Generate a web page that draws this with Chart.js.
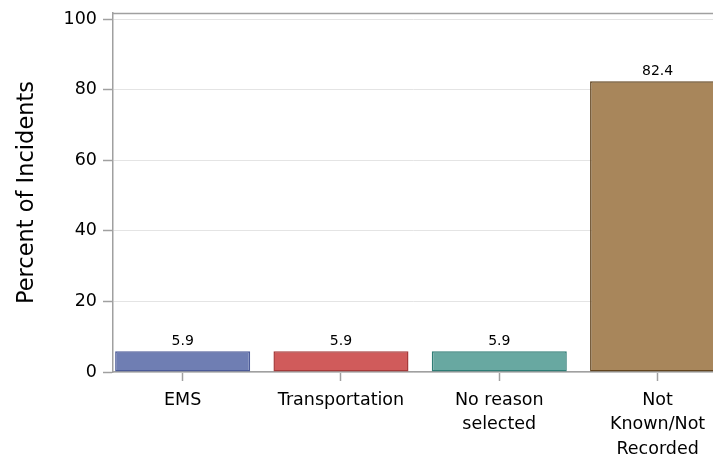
<!DOCTYPE html>
<html>
<head>
<meta charset="utf-8">
<script src="https://cdn.jsdelivr.net/npm/chart.js@4.4.1/dist/chart.umd.min.js"></script>
<style>
html,body{margin:0;padding:0;background:#fff;overflow:hidden;}
canvas{display:block;}
</style>
</head>
<body>
<canvas id="c" width="713" height="459"></canvas>
<script>
const categories = [["EMS"], ["Transportation"], ["No reason", "selected"], ["Not", "Known/Not", "Recorded"]];
const values = [5.9, 5.9, 5.9, 82.4];
const valueLabels = ["5.9", "5.9", "5.9", "82.4"];
const yTicks = [0, 20, 40, 60, 80, 100];
const fillColors = ["#6f7eb3", "#d05b5b", "#68a8a1", "#a8865b"];
const borderColors = ["#4c5b98", "#a63a3a", "#2f7d76", "#62441f"];

const FONT = "'DejaVu Sans', sans-serif";

const frameAndLabels = {
  id: 'frameAndLabels',
  afterDatasetsDraw(chart) {
    const {ctx, chartArea} = chart;
    ctx.save();
    ctx.strokeStyle = '#a0a0a0';
    ctx.lineWidth = 1.5;
    ctx.beginPath();
    ctx.moveTo(chartArea.left, chartArea.top + 0.5);
    ctx.lineTo(chartArea.right, chartArea.top + 0.5);
    ctx.stroke();
    const meta = chart.getDatasetMeta(0);
    ctx.fillStyle = '#000';
    ctx.font = "14px " + FONT;
    ctx.textAlign = 'center';
    ctx.textBaseline = 'bottom';
    meta.data.forEach((bar, i) => {
      ctx.fillText(valueLabels[i], bar.x, bar.y - 3);
    });
    ctx.restore();
  }
};

new Chart(document.getElementById('c'), {
  type: 'bar',
  data: {
    datasets: [{
      data: values.map((v, i) => ({x: i, y: v})),
      backgroundColor: fillColors,
      borderColor: borderColors,
      borderWidth: 1.5,
      borderSkipped: false,
      categoryPercentage: 1,
      barPercentage: 0.853
    }]
  },
  options: {
    responsive: false,
    animation: false,
    devicePixelRatio: 1,
    layout: {padding: {top: 13, right: 0, bottom: 0, left: 0}},
    plugins: {legend: {display: false}, tooltip: {enabled: false}},
    scales: {
      x: {
        type: 'linear',
        offset: false,
        min: -0.44,
        max: 3.35,
        afterBuildTicks(scale) { scale.ticks = categories.map((c, i) => ({value: i})); },
        afterFit(scale) { scale.height = 87; scale.paddingLeft = 0; scale.paddingRight = 0; },
        ticks: {
          autoSkip: false,
          maxRotation: 0,
          minRotation: 0,
          padding: 7,
          color: '#000',
          font: {family: FONT, size: 17.5, lineHeight: 1.4},
          callback: (v) => categories[v]
        },
        grid: {offset: false, drawOnChartArea: false, drawTicks: true, tickLength: 9, tickColor: '#a0a0a0', tickWidth: 1.5},
        border: {display: true, color: '#a0a0a0', width: 1.5}
      },
      y: {
        type: 'linear',
        min: 0,
        max: 101.7,
        afterBuildTicks(scale) { scale.ticks = yTicks.map(v => ({value: v})); },
        afterFit(scale) { scale.width = 113; scale.paddingTop = 0; scale.paddingBottom = 0; },
        ticks: {
          padding: 6,
          color: '#000',
          font: {family: FONT, size: 17.5}
        },
        grid: {color: '#e4e4e4', lineWidth: 1, tickLength: 10, tickColor: '#a0a0a0', tickWidth: 1.5},
        border: {display: true, color: '#a0a0a0', width: 1.5},
        title: {
          display: true,
          text: 'Percent of Incidents',
          color: '#000',
          font: {family: FONT, size: 22.5, lineHeight: 1.2},
          padding: {top: 13.5, bottom: 0}
        }
      }
    }
  },
  plugins: [frameAndLabels]
});
</script>
</body>
</html>
